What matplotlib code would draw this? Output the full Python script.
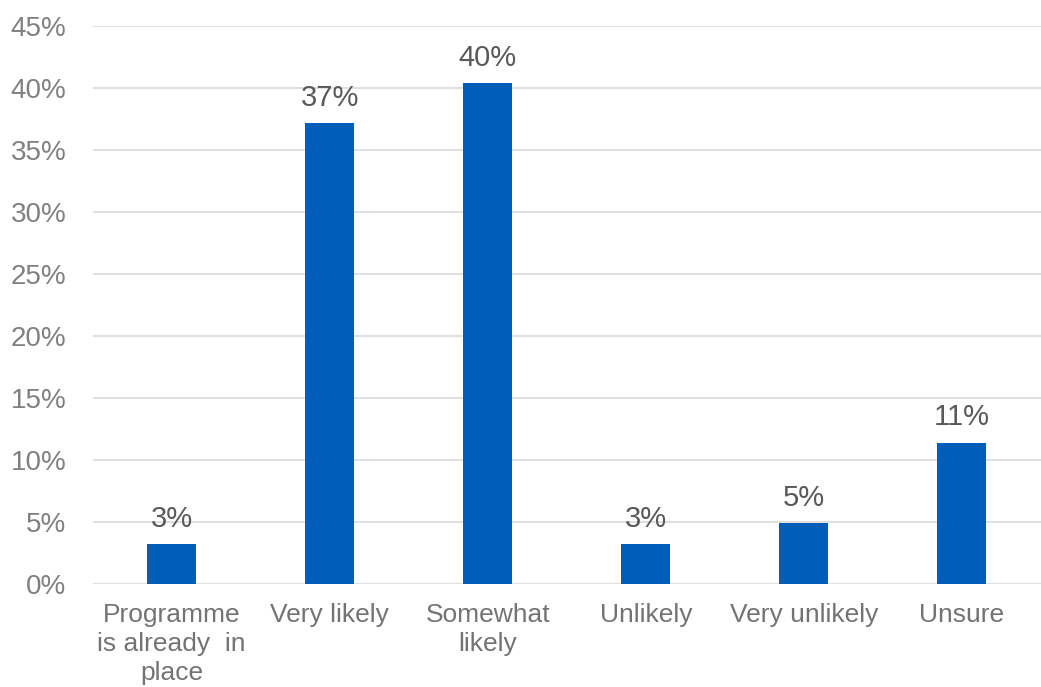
import matplotlib
matplotlib.use('agg')
import matplotlib.pyplot as plt
from matplotlib.ticker import PercentFormatter

categories = ['Programme\nis already  in\nplace', 'Very likely', 'Somewhat\nlikely',
              'Unlikely', 'Very unlikely', 'Unsure']
values = [3.2, 37.2, 40.4, 3.2, 4.9, 11.4]
labels = ['3%', '37%', '40%', '3%', '5%', '11%']
yticks = [0, 5, 10, 15, 20, 25, 30, 35, 40, 45]


def main():
    plt.rcParams['font.family'] = ['Liberation Sans', 'DejaVu Sans']
    fig = plt.figure(figsize=(10.41, 6.87), dpi=100)
    ax = fig.add_axes([0.089, 0.15, 0.911, 0.812])

    x = range(len(categories))
    ax.bar(x, values, width=0.31, color='#005EB8', zorder=3)
    for xi, v, lab in zip(x, values, labels):
        ax.text(xi, v + 0.9, lab, ha='center', va='bottom',
                fontsize=21, color='#595959')

    ax.set_xlim(-0.5, len(categories) - 0.5)
    ax.set_ylim(0, 45)
    ax.set_yticks(yticks)
    ax.yaxis.set_major_formatter(PercentFormatter(decimals=0))
    ax.set_xticks(list(x))
    ax.set_xticklabels(categories, linespacing=1.26)
    ax.tick_params(axis='x', length=0, labelsize=19, colors='#737373', pad=14)
    ax.tick_params(axis='y', length=0, labelsize=20, colors='#808080', pad=19)
    ax.grid(axis='y', color='#d9d9d9', lw=1.2, zorder=0)
    for s in ax.spines.values():
        s.set_visible(False)

    plt.savefig('out.png', dpi=100)


if __name__ == '__main__':
    main()
